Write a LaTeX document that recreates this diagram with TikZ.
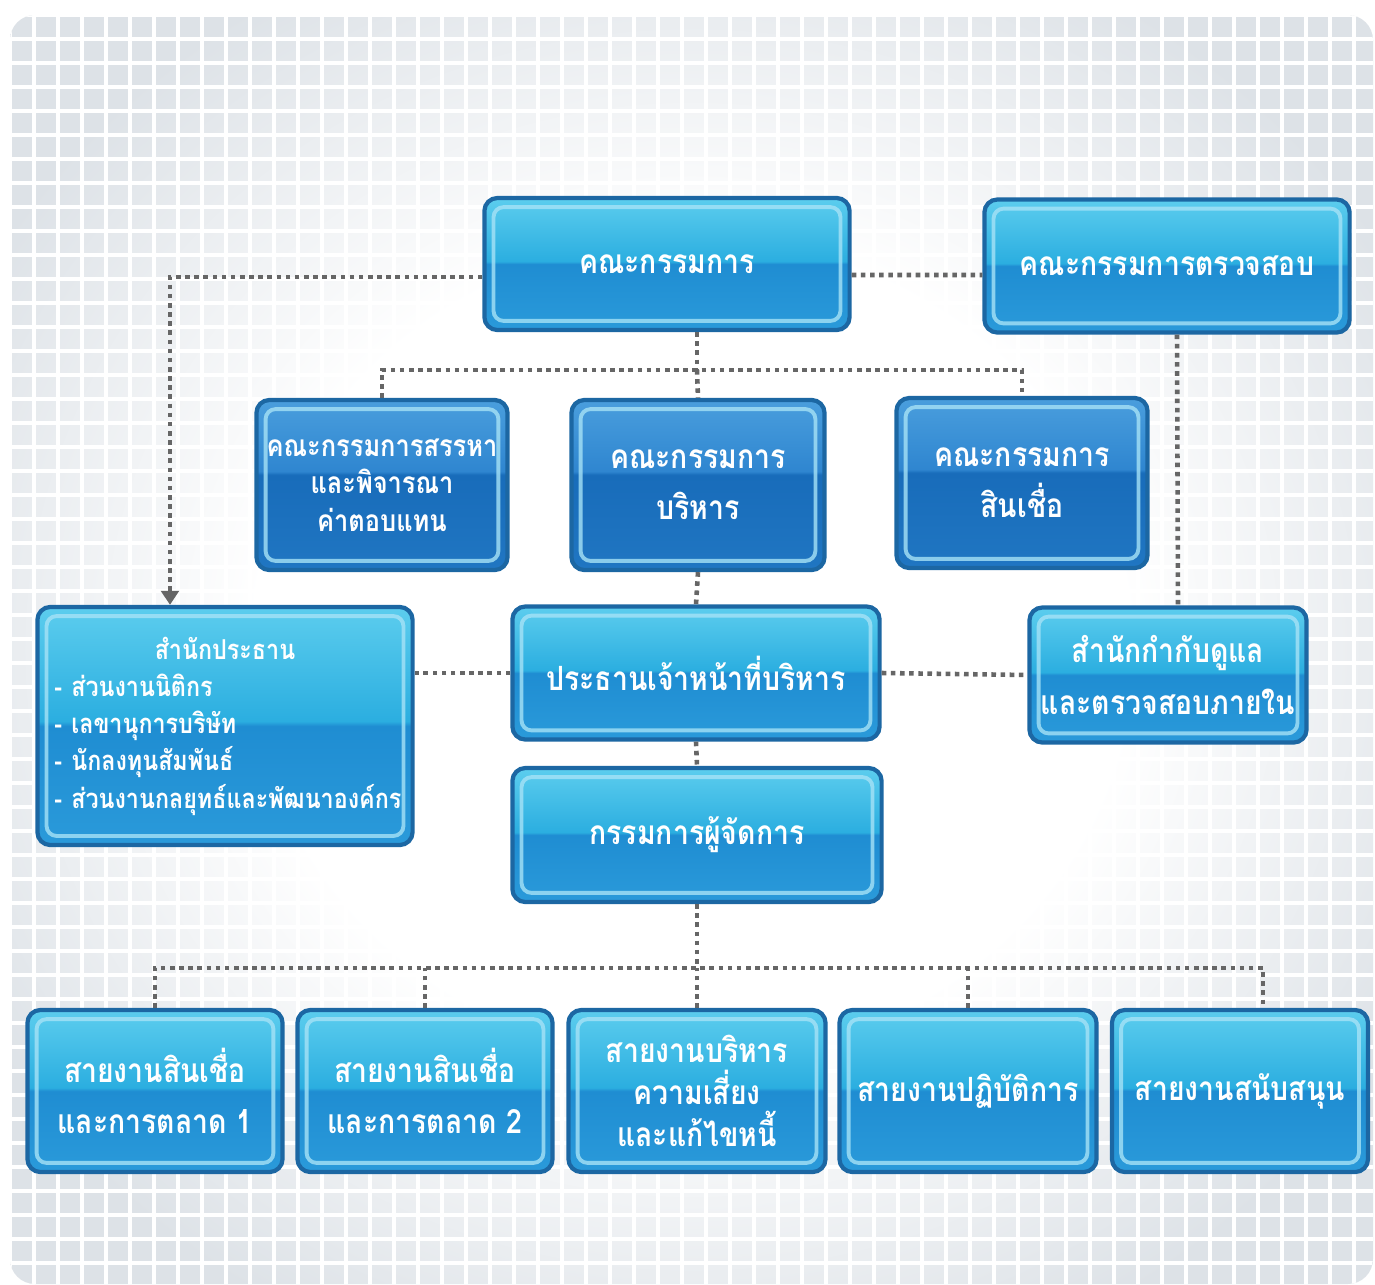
\documentclass[tikz,border=0pt]{standalone}
\usepackage{fontspec}
\newfontfamily\thaifont[Script=Thai,FakeStretch=0.85]{Loma}
\usetikzlibrary{arrows.meta}

\definecolor{boxtop}{HTML}{5CCDEE}
\definecolor{boxhi}{HTML}{2BAEE0}
\definecolor{boxmid}{HTML}{1F8DD2}
\definecolor{boxlow}{HTML}{2A9ADA}
\definecolor{deeptop}{HTML}{4A9EDD}
\definecolor{deephi}{HTML}{2F86D0}
\definecolor{deepmid}{HTML}{186CBA}
\definecolor{deeplow}{HTML}{2076C2}
\definecolor{boxedge}{HTML}{1C67A3}
\definecolor{boxglow}{HTML}{A6E2F6}
\definecolor{linkgray}{HTML}{666666}
\definecolor{panelgray}{HTML}{DDE2E7}

\pgfdeclareverticalshading{glossy}{100bp}{color(0bp)=(boxlow); color(25bp)=(boxlow);
  color(50bp)=(boxmid); color(51bp)=(boxhi); color(75bp)=(boxtop); color(100bp)=(boxtop)}
\pgfdeclareverticalshading{glossydeep}{100bp}{color(0bp)=(deeplow); color(25bp)=(deeplow);
  color(53bp)=(deepmid); color(54bp)=(deephi); color(75bp)=(deeptop); color(100bp)=(deeptop)}
\pgfdeclareradialshading{panelfade}{\pgfpoint{0bp}{0bp}}{color(0bp)=(white); color(16bp)=(white);
  color(30bp)=(panelgray); color(50bp)=(panelgray)}

\begin{document}
\begin{tikzpicture}[x=0.01cm,y=-0.01cm,
  box/.style={rounded corners=0.13cm, draw=boxedge, line width=1.2pt, shading=glossy,
    text=white, align=center, inner sep=2pt,
    font=\thaifont\bfseries\fontsize{9.5}{14.6}\selectfont,
    path picture={\draw[boxglow, line width=1.1pt, opacity=0.8, rounded corners=0.1cm]
      ([shift={(2.6pt,-2.6pt)}]path picture bounding box.north west) rectangle
      ([shift={(-2.6pt,2.6pt)}]path picture bounding box.south east);}},
  deepbox/.style={box, shading=glossydeep},
  link/.style={draw=linkgray, line width=1.3pt, dash pattern=on 1.3pt off 1.3pt}]

% background panel
\fill[white] (0,0) rectangle (1375,1284);
\begin{scope}
\clip[rounded corners=0.25cm] (10,15) rectangle (1373,1284);
\shade[shading=panelfade] (10,15) rectangle (1373,1284);
\foreach \g in {0,24,...,1370}
{\draw[white, line width=1.2pt] (\g+10,15) -- (\g+10,1284);
 \draw[white, line width=1.2pt] (10,\g+15) -- (1373,\g+15);}
\end{scope}

% boards and committees
\node[box, minimum width=3.65cm, minimum height=1.32cm] (board) at (667,264) {คณะกรรมการ};
\node[box, minimum width=3.65cm, minimum height=1.33cm] (audit) at (1167,266) {คณะกรรมการตรวจสอบ};
\node[deepbox, minimum width=2.51cm, minimum height=1.70cm,
  font=\thaifont\bfseries\fontsize{8.5}{10.6}\selectfont] (nomcom) at (382,485) {คณะกรรมการสรรหา\\และพิจารณา\\ค่าตอบแทน};
\node[deepbox, minimum width=2.53cm, minimum height=1.70cm] (execcom) at (698,485) {คณะกรรมการ\\บริหาร};
\node[deepbox, minimum width=2.51cm, minimum height=1.70cm] (credcom) at (1022,483) {คณะกรรมการ\\สินเชื่อ};

% executives
\node[box, text width=3.41cm, inner xsep=0.17cm, minimum height=2.38cm, align=left,
  font=\thaifont\bfseries\fontsize{7.8}{10.6}\selectfont] (office) at (225,726)
  {\makebox[\hsize]{สำนักประธาน}\\- ส่วนงานนิติกร\\- เลขานุการบริษัท\\- นักลงทุนสัมพันธ์\\\mbox{- ส่วนงานกลยุทธ์และพัฒนาองค์กร}};
\node[box, minimum width=3.67cm, minimum height=1.33cm] (ceo) at (696,673) {ประธานเจ้าหน้าที่บริหาร};
\node[box, minimum width=2.77cm, minimum height=1.35cm] (compliance) at (1168,675) {สำนักกำกับดูแล\\และตรวจสอบภายใน};
\node[box, minimum width=3.69cm, minimum height=1.34cm] (md) at (697,835) {กรรมการผู้จัดการ};

% business lines
\node[box, minimum width=2.55cm, minimum height=1.62cm] (line1) at (155,1091) {สายงานสินเชื่อ\\และการตลาด 1};
\node[box, minimum width=2.55cm, minimum height=1.62cm] (line2) at (425,1091) {สายงานสินเชื่อ\\และการตลาด 2};
\node[box, minimum width=2.57cm, minimum height=1.62cm,
  font=\thaifont\bfseries\fontsize{9.5}{12}\selectfont] (line3) at (697,1091) {สายงานบริหาร\\ความเสี่ยง\\และแก้ไขหนี้};
\node[box, minimum width=2.57cm, minimum height=1.62cm] (line4) at (968,1091) {สายงานปฏิบัติการ};
\node[box, minimum width=2.56cm, minimum height=1.62cm] (line5) at (1240,1091) {สายงานสนับสนุน};

% connectors
\coordinate (busA) at (697,370);
\coordinate (busB) at (697,968);
\draw[link,-{Triangle[width=5pt,length=4pt]}] ([yshift=-0.13cm]board.west) -| ([xshift=-0.55cm]office.north);
\draw[link] ([yshift=-0.11cm]board.east) -- ([yshift=-0.09cm]audit.west);
\draw[link] (busA |- board.south) -- (busA);
\draw[link] (nomcom.north) |- (busA) -| (credcom.north);
\draw[link] (busA) -- (execcom.north);
\draw[link] (execcom.south) -- (ceo.north);
\draw[link] ([xshift=0.1cm]audit.south) -- ([xshift=0.1cm]compliance.north);
\draw[link] (ceo.west) -- (ceo.west -| office.east);
\draw[link] (ceo.east) -- (compliance.west);
\draw[link] (ceo.south) -- (md.north);
\draw[link] (md.south) -- (busB);
\draw[link] (line1.north) |- (busB) -| ([xshift=0.23cm]line5.north);
\foreach \n in {line2,line3,line4}
\draw[link] (\n.north) -- (\n.north |- busB);
\end{tikzpicture}
\end{document}
